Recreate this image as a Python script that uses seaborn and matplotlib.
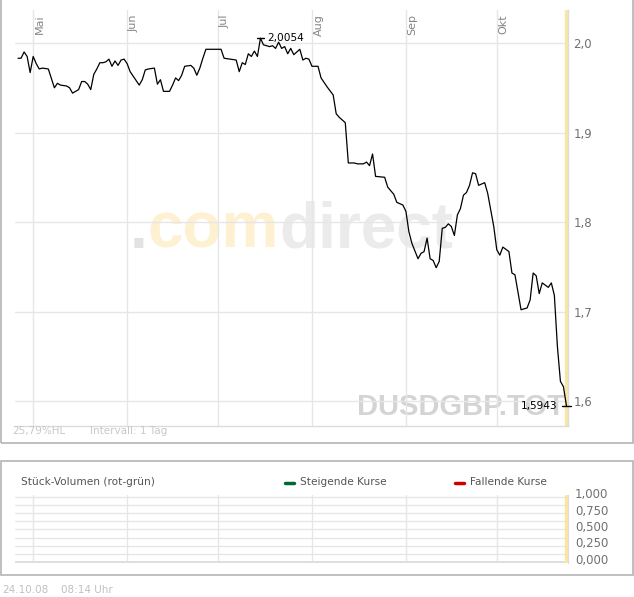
import pandas as pd
import matplotlib
matplotlib.use("Agg")
import matplotlib.pyplot as plt
import matplotlib.transforms as mtransforms
from matplotlib.patches import Rectangle
from matplotlib.lines import Line2D
import seaborn as sns

# daily USD/GBP quote
DATES = [
    "2008-04-26", "2008-04-27", "2008-04-28", "2008-04-29", "2008-04-30",
    "2008-05-01", "2008-05-02", "2008-05-03", "2008-05-04", "2008-05-06",
    "2008-05-08", "2008-05-09", "2008-05-10", "2008-05-12", "2008-05-13",
    "2008-05-14", "2008-05-15", "2008-05-16", "2008-05-17", "2008-05-18",
    "2008-05-19", "2008-05-20", "2008-05-21", "2008-05-22", "2008-05-23",
    "2008-05-24", "2008-05-25", "2008-05-26", "2008-05-27", "2008-05-28",
    "2008-05-29", "2008-05-30", "2008-05-31", "2008-06-01", "2008-06-02",
    "2008-06-03", "2008-06-05", "2008-06-06", "2008-06-07", "2008-06-08",
    "2008-06-10", "2008-06-11", "2008-06-12", "2008-06-13", "2008-06-15",
    "2008-06-16", "2008-06-17", "2008-06-18", "2008-06-19", "2008-06-20",
    "2008-06-22", "2008-06-23", "2008-06-24", "2008-06-25", "2008-06-26",
    "2008-06-27", "2008-06-29", "2008-07-01", "2008-07-02", "2008-07-03",
    "2008-07-05", "2008-07-07", "2008-07-08", "2008-07-09", "2008-07-10",
    "2008-07-11", "2008-07-12", "2008-07-13", "2008-07-14", "2008-07-15",
    "2008-07-16", "2008-07-18", "2008-07-19", "2008-07-20", "2008-07-21",
    "2008-07-22", "2008-07-23", "2008-07-24", "2008-07-25", "2008-07-26",
    "2008-07-27", "2008-07-28", "2008-07-29", "2008-07-30", "2008-07-31",
    "2008-08-01", "2008-08-03", "2008-08-04", "2008-08-06", "2008-08-08",
    "2008-08-09", "2008-08-10", "2008-08-12", "2008-08-13", "2008-08-15",
    "2008-08-16", "2008-08-18", "2008-08-19", "2008-08-20", "2008-08-21",
    "2008-08-22", "2008-08-25", "2008-08-26", "2008-08-28", "2008-08-29",
    "2008-08-31", "2008-09-01", "2008-09-02", "2008-09-03", "2008-09-05",
    "2008-09-06", "2008-09-07", "2008-09-08", "2008-09-09", "2008-09-10",
    "2008-09-11", "2008-09-12", "2008-09-13", "2008-09-14", "2008-09-15",
    "2008-09-16", "2008-09-17", "2008-09-18", "2008-09-19", "2008-09-20",
    "2008-09-21", "2008-09-22", "2008-09-23", "2008-09-24", "2008-09-25",
    "2008-09-27", "2008-09-28", "2008-09-30", "2008-10-01", "2008-10-02",
    "2008-10-03", "2008-10-05", "2008-10-06", "2008-10-07", "2008-10-09",
    "2008-10-11", "2008-10-12", "2008-10-13", "2008-10-14", "2008-10-15",
    "2008-10-16", "2008-10-18", "2008-10-19", "2008-10-20", "2008-10-21",
    "2008-10-22", "2008-10-23", "2008-10-24",
]
RATES = [
    1.983, 1.983, 1.990, 1.985, 1.967,
    1.985, 1.977, 1.971, 1.972, 1.971,
    1.950, 1.955, 1.953, 1.952, 1.950,
    1.944, 1.946, 1.948, 1.957, 1.957,
    1.954, 1.948, 1.965, 1.971, 1.978,
    1.978, 1.979, 1.982, 1.974, 1.980,
    1.975, 1.981, 1.982, 1.977, 1.968,
    1.963, 1.953, 1.959, 1.970, 1.971,
    1.972, 1.954, 1.959, 1.946, 1.946,
    1.953, 1.961, 1.958, 1.964, 1.974,
    1.975, 1.972, 1.964, 1.972, 1.983,
    1.993, 1.993, 1.993, 1.993, 1.983,
    1.982, 1.981, 1.968, 1.978, 1.976,
    1.988, 1.985, 1.991, 1.985, 2.0054,
    1.998, 1.996, 1.997, 1.994, 2.001,
    1.994, 1.996, 1.988, 1.994, 1.987,
    1.990, 1.993, 1.981, 1.983, 1.982,
    1.974, 1.974, 1.961, 1.951, 1.942,
    1.921, 1.917, 1.911, 1.866, 1.866,
    1.865, 1.865, 1.867, 1.863, 1.876,
    1.851, 1.850, 1.839, 1.831, 1.822,
    1.819, 1.812, 1.789, 1.776, 1.759,
    1.765, 1.767, 1.782, 1.759, 1.757,
    1.749, 1.756, 1.793, 1.794, 1.798,
    1.795, 1.785, 1.808, 1.815, 1.830,
    1.833, 1.841, 1.855, 1.854, 1.841,
    1.844, 1.832, 1.795, 1.769, 1.763,
    1.772, 1.767, 1.743, 1.741, 1.702,
    1.704, 1.713, 1.743, 1.740, 1.720,
    1.732, 1.727, 1.732, 1.718, 1.661,
    1.622, 1.616, 1.5943,
]
MONTH_STARTS = ["2008-05-01", "2008-06-01", "2008-07-01", "2008-08-01", "2008-09-01", "2008-10-01"]
MONTH_LABELS = ["Mai", "Jun", "Jul", "Aug", "Sep", "Okt"]
PRICE_TICKS = [1.6, 1.7, 1.8, 1.9, 2.0]
VOLUME_TICKS = [0.0, 0.25, 0.5, 0.75, 1.0]
VOLUME_GRID = [0.125, 0.375, 0.625, 0.875]


def de_num(v, n):
    return f"{v:.{n}f}".replace(".", ",")


sns.set_style("white")
plt.rcParams["font.family"] = ["DejaVu Sans"]

W, H = 634, 597
fig = plt.figure(figsize=(W / 100, H / 100), dpi=100)


def fx(px):
    return px / W


def fy(py):
    return 1 - py / H


GRID = "#e6e6e6"
TICK = "#707070"
YELLOW = "#fbe6a0"

# panel frames
fig.patches.append(Rectangle((fx(0.5), fy(443)), fx(632.5), 443 / H + 0.02,
                             transform=fig.transFigure, fill=False, ec="#b4b4b4", lw=1.2))
fig.patches.append(Rectangle((fx(0.5), fy(575)), fx(632.5), 114 / H,
                             transform=fig.transFigure, fill=False, ec="#b4b4b4", lw=1.2))

df = pd.DataFrame({"Datum": pd.to_datetime(DATES), "Kurs": RATES})
months = pd.to_datetime(MONTH_STARTS)
x_lo = pd.Timestamp("2008-04-25")
x_hi = pd.Timestamp("2008-10-24 12:00")
last_day = df["Datum"].iloc[-1]

# ---- price panel
ax = fig.add_axes([fx(15), fy(426), fx(553), 416 / H])
ax.set_axisbelow(True)
sns.lineplot(data=df, x="Datum", y="Kurs", ax=ax, color="black", lw=0.9, zorder=3)
ax.set_xlim(x_lo, x_hi)
ax.set_ylim(1.5721, 2.0369)
ax.set_xticks(months)
ax.set_yticks(PRICE_TICKS)
ax.set_yticklabels([de_num(t, 1) for t in PRICE_TICKS])
ax.yaxis.tick_right()
ax.tick_params(axis="x", length=0, labelbottom=False)
ax.tick_params(axis="y", length=0, pad=4, labelsize=8.5, labelcolor=TICK)
ax.grid(True, color=GRID, lw=1)
ax.set_xlabel("")
ax.set_ylabel("")
for side in ["left", "top"]:
    ax.spines[side].set_visible(False)
for side in ["bottom", "right"]:
    ax.spines[side].set_color("#dcdcdc")
    ax.spines[side].set_linewidth(1)
ax.axvline(last_day, color=YELLOW, lw=2.4, zorder=1.5)

trans = mtransforms.blended_transform_factory(ax.transData, ax.transAxes)
for m, lab in zip(months, MONTH_LABELS):
    ax.text(m + pd.Timedelta(days=2.2), 0.99, lab, transform=trans, rotation=90,
            ha="center", va="top", fontsize=8, color="#858585")

# watermark
wm = ax.text(0.208, 0.428, ".", transform=ax.transAxes, fontsize=46, fontweight="bold",
             family="Liberation Sans", color="#e2e2e2", zorder=0.2, va="baseline")
wm2 = ax.annotate("com", xy=(1, 0), xycoords=wm, fontsize=46, fontweight="bold",
                  family="Liberation Sans", color="#fdf1d2", zorder=0.2, va="bottom")
ax.annotate("direct", xy=(1, 0), xycoords=wm2, fontsize=46, fontweight="bold",
            family="Liberation Sans", color="#ebebeb", zorder=0.2, va="bottom")
ax.text(0.618, 0.026, "DUSDGBP.TOT", transform=ax.transAxes, fontsize=21, fontweight="bold",
        family="Liberation Sans", color="#d4d4d4", zorder=0.3, va="baseline")

# max and last value markers
i_max = df["Kurs"].idxmax()
d_max, v_max = df["Datum"][i_max], df["Kurs"][i_max]
ax.plot([d_max - pd.Timedelta(days=1.3), d_max + pd.Timedelta(days=1.3)], [v_max, v_max],
        color="black", lw=1, zorder=4, clip_on=False)
ax.annotate(de_num(v_max, 4), (d_max, v_max), xytext=(5, 0), textcoords="offset points",
            va="center", ha="left", fontsize=7.6, color="black", zorder=5)
v_last = df["Kurs"].iloc[-1]
ax.plot([last_day - pd.Timedelta(days=1.6), last_day + pd.Timedelta(days=1.6)], [v_last, v_last],
        color="black", lw=1, zorder=4, clip_on=False)
ax.annotate(de_num(v_last, 4), (last_day, v_last), xytext=(-6.5, 0), textcoords="offset points",
            va="center", ha="right", fontsize=7.6, color="black", zorder=5)

# high/low range
hl = (df["Kurs"].max() - df["Kurs"].min()) / df["Kurs"].min() * 100
fig.text(fx(12), fy(431), de_num(hl, 2) + "%HL", va="center", fontsize=7.5, color="#c8c8c8")
fig.text(fx(90), fy(431), "Intervall: 1 Tag", va="center", fontsize=7.5, color="#c8c8c8")

# ---- volume panel (no volume data)
vax = fig.add_axes([fx(15), fy(563), fx(553), 68 / H])
vax.set_axisbelow(True)
vax.set_xlim(x_lo, x_hi)
vax.set_ylim(-0.015, 1.03)
vax.set_xticks(months)
vax.set_yticks(VOLUME_TICKS)
vax.set_yticks(VOLUME_GRID, minor=True)
vax.set_yticklabels([de_num(t, 3) for t in VOLUME_TICKS])
vax.yaxis.tick_right()
vax.tick_params(axis="x", length=0, labelbottom=False)
vax.tick_params(axis="y", which="both", length=0, pad=5, labelsize=8.5, labelcolor=TICK)
vax.grid(True, which="both", color=GRID, lw=1)
for side in ["left", "top", "bottom"]:
    vax.spines[side].set_visible(False)
vax.spines["right"].set_color("#dcdcdc")
vax.axhline(0, color="#dedede", lw=2.2, zorder=0.6)
vax.axvline(last_day, color=YELLOW, lw=2.4, zorder=1.5)
shift = mtransforms.ScaledTranslation(0, 2.5 / 72, fig.dpi_scale_trans)
for lab in vax.get_yticklabels():
    lab.set_transform(lab.get_transform() + shift)

fig.text(fx(21), fy(482), "Stück-Volumen (rot-grün)", va="center", fontsize=7.6, color="#555555")
fig.add_artist(Line2D([fx(285), fx(294)], [fy(483), fy(483)], color="#006633", lw=2.5))
fig.text(fx(300), fy(482), "Steigende Kurse", va="center", fontsize=7.6, color="#555555")
fig.add_artist(Line2D([fx(455), fx(464)], [fy(483), fy(483)], color="#cc0000", lw=2.5))
fig.text(fx(470), fy(482), "Fallende Kurse", va="center", fontsize=7.6, color="#555555")

# footer
fig.text(fx(2), fy(590), "24.10.08", va="center", fontsize=7.5, color="#c0c0c0")
fig.text(fx(61), fy(590), "08:14 Uhr", va="center", fontsize=7.5, color="#c0c0c0")

fig.savefig("out.png", dpi=100)
